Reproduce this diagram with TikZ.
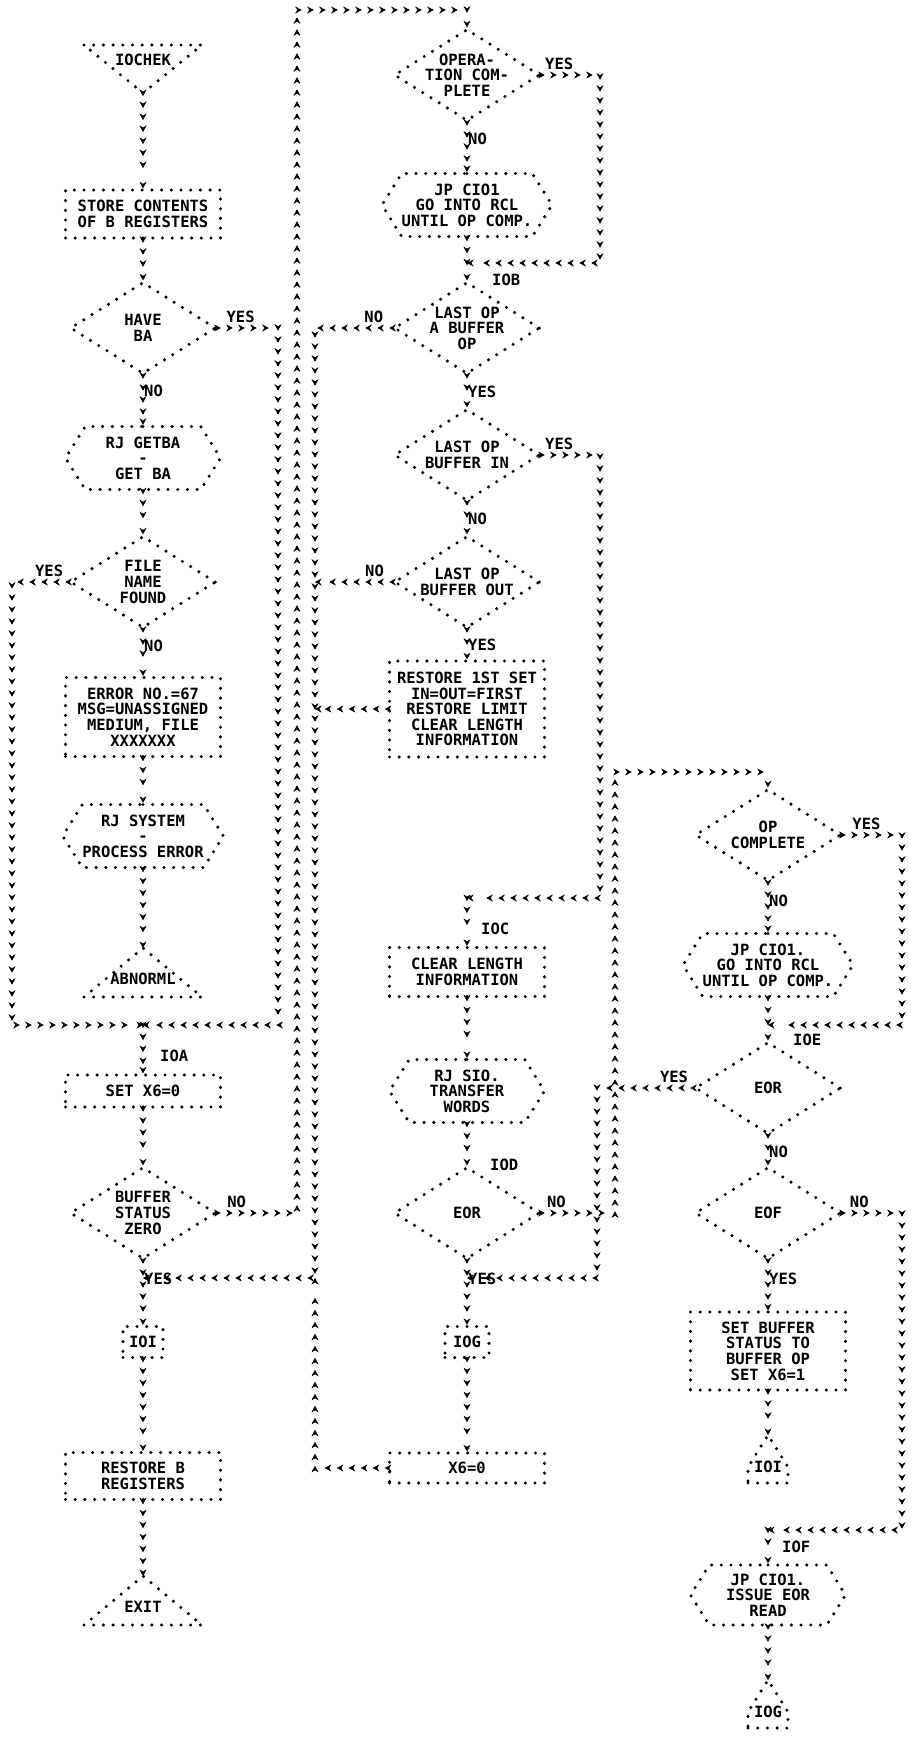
\documentclass[tikz,border=0pt]{standalone}
\usepackage{fontspec}
\setmonofont{DejaVu Sans Mono}
\usetikzlibrary{shapes.geometric,shapes.symbols,arrows.meta,decorations.markings}

\begin{document}
\begin{tikzpicture}[x=1pt, y=-1pt,
    every node/.style={font=\ttfamily\bfseries\fontsize{15.5}{15.6}\selectfont,
      align=center, inner sep=0pt},
    dotl/.style={draw, line width=3.4pt, line cap=round, dash pattern=on 0pt off 9.7pt},
    proc/.style={rectangle, dotl, minimum width=155pt},
    sub/.style={signal, signal to=east and west, signal pointer angle=116,
      dotl, minimum width=155pt, minimum height=63pt},
    dec/.style={diamond, dotl, aspect=1.6, inner sep=-3pt,
      minimum width=146pt, minimum height=92pt},
    con/.style={rectangle, dotl, minimum width=40pt, minimum height=31pt},
    lbl/.style={inner sep=1pt},
    flow/.style={decorate, decoration={markings,
      mark=between positions 3pt and -9pt step 12pt with {\arrow{Stealth[length=6.5pt,width=7pt]}},
      mark=at position 1 with {\arrow{Stealth[length=6.5pt,width=7pt]}}}},
    intri/.pic={\node (-t) {#1};
      \draw[dotl] (-59,-15) -- (59,-15) -- (0,33) coordinate (-tip) -- cycle;},
    outtri/.pic={\node (-t) {#1};
      \draw[dotl] (-59,18) -- (59,18) -- (0,-31) coordinate (-tip) -- cycle;},
    outcon/.pic={\node (-t) {#1};
      \draw[dotl] (-20,16) -- (20,16) -- (20,0) -- (0,-32) coordinate (-tip) -- (-20,0) -- cycle;}
  ]
  \useasboundingbox (0,0) rectangle (914,1743);

  % linke Spalte
  \pic (chk) at (143,60) {intri=IOCHEK};
  \node[proc, minimum height=48pt] (store) at (143,214) {STORE CONTENTS\\OF B REGISTERS};
  \node[dec] (have) at (143,328) {HAVE\\BA};
  \node[sub] (getba) at (143,458) {RJ GETBA\\-\\GET BA};
  \node[dec] (file) at (143,582) {FILE\\NAME\\FOUND};
  \node[proc, minimum height=79pt] (err) at (143,717) {ERROR NO.=67\\MSG=UNASSIGNED\\MEDIUM, FILE\\XXXXXXX};
  \node[sub] (rjsys) at (143,836) {RJ SYSTEM\\-\\PROCESS ERROR};
  \pic (abn) at (143,979) {outtri=ABNORML};
  \node[proc, minimum height=32pt] (setx) at (143,1091) {SET X6=0};
  \node[dec] (bsz) at (143,1213) {BUFFER\\STATUS\\ZERO};
  \node[con] (ioi) at (143,1342) {IOI};
  \node[proc, minimum height=47pt] (rsb) at (143,1476) {RESTORE B\\REGISTERS};
  \pic (exitc) at (143,1607) {outtri=EXIT};

  % mittlere Spalte
  \node[dec] (opc) at (467,75) {OPERA-\\TION COM-\\PLETE};
  \node[sub] (cio1) at (467,205) {JP CIO1\\GO INTO RCL\\UNTIL OP COMP.};
  \node[dec] (lob) at (467,328) {LAST OP\\A BUFFER\\OP};
  \node[dec] (lbi) at (467,455) {LAST OP\\BUFFER IN};
  \node[dec] (lbo) at (467,582) {LAST OP\\BUFFER OUT};
  \node[proc, minimum height=96pt] (rst) at (467,709) {RESTORE 1ST SET\\IN=OUT=FIRST\\RESTORE LIMIT\\CLEAR LENGTH\\INFORMATION};
  \node[proc, minimum height=49pt] (clr) at (467,972) {CLEAR LENGTH\\INFORMATION};
  \node[sub] (sio) at (467,1091) {RJ SIO.\\TRANSFER\\WORDS};
  \node[dec] (eord) at (467,1213) {EOR};
  \node[con, minimum width=44pt] (iog) at (467,1342) {IOG};
  \node[proc, minimum height=30pt] (xset) at (467,1468) {X6=0};

  % rechte Spalte
  \node[dec] (opr) at (768,835) {OP\\COMPLETE};
  \node[sub] (cio2) at (768,965) {JP CIO1.\\GO INTO RCL\\UNTIL OP COMP.};
  \node[dec] (eore) at (768,1088) {EOR};
  \node[dec] (eof) at (768,1213) {EOF};
  \node[proc, minimum height=78pt] (sbs) at (768,1351) {SET BUFFER\\STATUS TO\\BUFFER OP\\SET X6=1};
  \pic (ioj) at (768,1467) {outcon=IOI};
  \node[sub, minimum height=60pt] (cio3) at (768,1595) {JP CIO1.\\ISSUE EOR\\READ};
  \pic (iok) at (768,1712) {outcon=IOG};

  % Knickpunkte
  \coordinate (jA) at (143,1025);
  \coordinate (cHave) at (278,1025);
  \coordinate (cFile) at (12,1025);
  \coordinate (cTop) at (297,10);
  \coordinate (cNo) at (315,1278);
  \coordinate (jY) at (143,1278);
  \coordinate (jB) at (467,263);
  \coordinate (cB) at (600,263);
  \coordinate (jC) at (467,898);
  \coordinate (cC) at (600,898);
  \coordinate (cEor) at (615,772);
  \coordinate (jD) at (467,1278);
  \coordinate (cD) at (597,1278);
  \coordinate (jE) at (768,1025);
  \coordinate (cE) at (902,1025);
  \coordinate (jF) at (768,1530);
  \coordinate (cF) at (902,1530);

  % Verbindungen links
  \path[flow] (chk-tip) -- (store);
  \path[flow] (store) -- (have);
  \path[flow] (have) -- node[lbl, right, pos=.3] {NO} (getba);
  \path[flow] (have.east) -| node[lbl, above=4pt, pos=.19] {YES} (cHave) -- (jA);
  \path[flow] (getba) -- (file);
  \path[flow] (file) -- node[lbl, right, pos=.34] {NO} (err);
  \path[flow] (file.west) -| node[lbl, above=4pt, pos=.17] {YES} (cFile) -- (jA);
  \path[flow] (err) -- (rjsys);
  \path[flow] (rjsys) -- (abn-tip);
  \path[flow] (jA) -- node[lbl, right=16pt, pos=.64] {IOA} (setx);
  \path[flow] (setx) -- (bsz);
  \path[flow] (bsz.east) -| node[lbl, above=4pt, pos=.12] {NO} (cTop) -| (opc);
  \path[flow] (bsz) -- node[lbl, right, pos=.28] {YES} (ioi);
  \path[flow] (ioi) -- (rsb);
  \path[flow] (rsb) -- (exitc-tip);

  % Verbindungen Mitte
  \path[flow] (opc) -- node[lbl, right, pos=.33] {NO} (cio1);
  \path[flow] (opc.east) -| node[lbl, above=4pt, pos=.15] {YES} (cB) -- (jB);
  \path[flow] (cio1) -- node[lbl, pos=1, right=24pt] {IOB} (lob);
  \path[flow] (lob.west) -| node[lbl, above=4pt, pos=.12] {NO} (cNo) -- (jY);
  \path[flow] (lob) -- node[lbl, right, pos=.5] {YES} (lbi);
  \path[flow] (lbi.east) -| node[lbl, above=4pt, pos=.15] {YES} (cC) -- (jC);
  \path[flow] (lbi) -- node[lbl, right, pos=.5] {NO} (lbo);
  \path[flow] (lbo.west) -- node[lbl, above=4pt, pos=.23] {NO} (lbo.west -| cNo);
  \path[flow] (lbo) -- node[lbl, right, pos=.5] {YES} (rst);
  \path[flow] (rst.west) -- (rst.west -| cNo);
  \path[flow] (jC) -- node[lbl, right=13pt, pos=.64] {IOC} (clr);
  \path[flow] (clr) -- (sio);
  \path[flow] (sio) -- node[lbl, pos=1, right=22pt] {IOD} (eord);
  \path[flow] (eord.east) -| node[lbl, above=4pt, pos=.1] {NO} (cEor) -| (opr);
  \path[flow] (eord) -- node[lbl, right, pos=.28] {YES} (iog);
  \path[flow] (iog) -- (xset);
  \path[flow] (xset.west) -| (cNo);

  % Verbindungen rechts
  \path[flow] (opr) -- node[lbl, right, pos=.37] {NO} (cio2);
  \path[flow] (opr.east) -| node[lbl, above=4pt, pos=.2] {YES} (cE) -- (jE);
  \path[flow] (cio2) -- node[lbl, pos=1, right=24pt] {IOE} (eore);
  \path[flow] (eore.west) -| node[lbl, above=4pt, pos=.1] {YES} (cD) -- (jD);
  \path[flow] (eore) -- node[lbl, right, pos=.55] {NO} (eof);
  \path[flow] (eof.east) -| node[lbl, above=4pt, pos=.14] {NO} (cF) -- (jF);
  \path[flow] (eof) -- node[lbl, right, pos=.36] {YES} (sbs);
  \path[flow] (sbs) -- (ioj-tip);
  \path[flow] (jF) -- node[lbl, right=13pt, pos=.5] {IOF} (cio3);
  \path[flow] (cio3) -- (iok-tip);
\end{tikzpicture}
\end{document}
